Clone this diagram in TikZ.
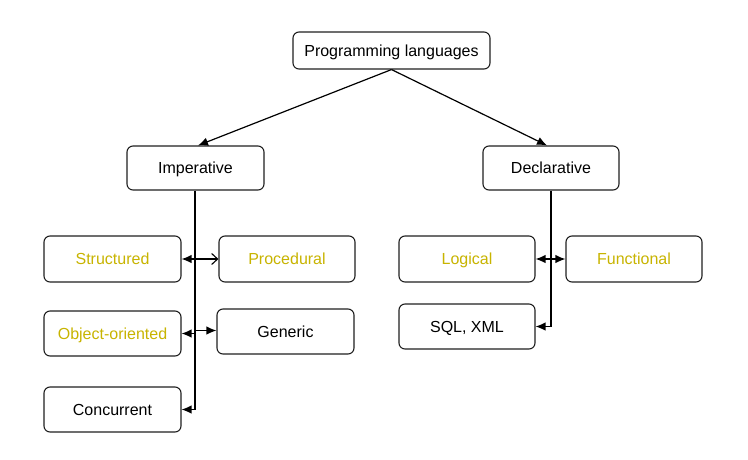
\documentclass[tikz,border=0pt]{standalone}
\usepackage{fontspec}
\setmainfont{Liberation Sans}
\usetikzlibrary{arrows.meta}
\definecolor{ylw}{HTML}{C8B400}
\definecolor{edge}{HTML}{202020}
\tikzset{
  box/.style={draw=edge, line width=1.1pt, rounded corners=6pt, fill=white, align=center,
    font=\fontsize{16}{19}\selectfont, inner sep=0pt, text height=11.5pt, text depth=0pt},
  ybox/.style={box, text=ylw},
  conn/.style={draw=black, line width=1.2pt},
  fa/.style={conn, -{Latex[length=10pt,width=8.5pt]}},
  oa/.style={conn, -{Straight Barb[length=6pt,width=11pt,line width=1.1pt]}},
}
\begin{document}
\begin{tikzpicture}[x=1pt,y=-1pt]
\useasboundingbox (0,0) rectangle (748,459);
\node[box, minimum width=197pt, minimum height=37pt] (pl) at (391.5,50.5) {Programming languages};
\node[box, minimum width=137pt, minimum height=44pt] (imp) at (195.5,168) {Imperative};
\node[box, minimum width=136pt, minimum height=44pt] (dec) at (551,168) {Declarative};
\node[ybox, minimum width=137pt, minimum height=46pt] (str) at (112.5,259) {Structured};
\node[ybox, minimum width=136pt, minimum height=46pt] (proc) at (287,259) {Procedural};
\node[ybox, minimum width=136pt, minimum height=46pt] (log) at (467,259) {Logical};
\node[ybox, minimum width=136pt, minimum height=46pt] (fun) at (634,259) {Functional};
\node[ybox, minimum width=137pt, minimum height=45pt] (oo) at (112.5,333.5) {Object-oriented};
\node[box, minimum width=137pt, minimum height=45pt] (gen) at (285.5,331.5) {Generic};
\node[box, minimum width=136pt, minimum height=45pt] (sql) at (467,326.5) {SQL, XML};
\node[box, minimum width=137pt, minimum height=45pt] (con) at (112.5,409.5) {Concurrent};

\draw[fa] (pl.south) -- ([xshift=2.5pt]imp.north);
\draw[fa] (pl.south) -- ([xshift=-4pt]dec.north);

\coordinate (ib) at (195,409.5);
\draw[conn] (imp.south -| ib) -- (ib);
\draw[fa] (ib) -- (con.east |- ib);
\draw[fa] (195,259) -- (str.east);
\draw[oa] (195,259) -- (proc.west);
\draw[fa] (195,333.5) -- (oo.east);
\draw[fa] (195,330.5) -- (gen.west |- 0,330.5);

\coordinate (db) at (551,326.5);
\draw[conn] (dec.south) -- (db);
\draw[fa] (db) -- (sql.east);
\draw[fa] (551,259) -- (log.east);
\draw[fa] (551,259) -- (fun.west);
\end{tikzpicture}
\end{document}
